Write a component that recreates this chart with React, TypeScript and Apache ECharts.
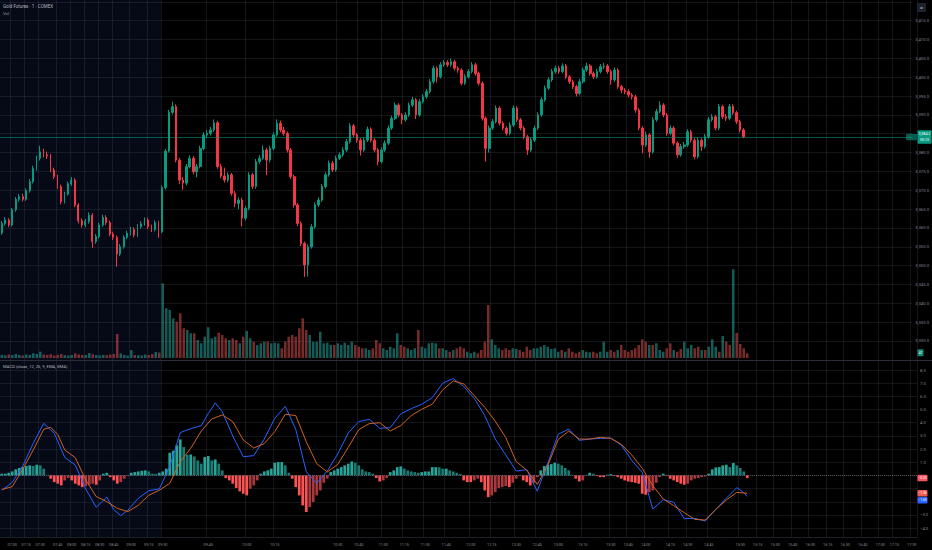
import React, { useEffect, useRef } from "react";
import * as echarts from "echarts";

const W = 932;
const H = 550;
const SLOT_COUNT = 262;

// [open, close, low, high]
const premarketCandles: number[][] = [
  [3358.7, 3361.2, 3358.2, 3361.8], [3361.2, 3362.1, 3360.6, 3362.9], [3362.1, 3360.8, 3360.2, 3362.6],
  [3360.8, 3364.8, 3360.4, 3365.3], [3364.8, 3367.6, 3364.3, 3368.2], [3367.6, 3368.3, 3367.0, 3369.0],
  [3368.3, 3367.6, 3367.0, 3369.1], [3367.6, 3369.9, 3367.2, 3370.5], [3369.9, 3372.3, 3369.4, 3373.0],
  [3372.3, 3375.8, 3371.8, 3376.5], [3375.8, 3378.5, 3375.2, 3379.2], [3378.5, 3380.2, 3377.9, 3381.8],
  [3380.2, 3379.4, 3378.7, 3381.0], [3379.4, 3379.1, 3378.3, 3380.3], [3379.1, 3375.4, 3374.8, 3379.6],
  [3375.4, 3373.6, 3373.0, 3376.0], [3373.6, 3371.0, 3370.4, 3374.1], [3371.0, 3367.0, 3366.3, 3371.5],
  [3367.0, 3369.0, 3366.5, 3369.6], [3369.0, 3371.7, 3368.6, 3372.3], [3371.7, 3372.7, 3371.2, 3373.5],
  [3372.7, 3366.1, 3365.5, 3373.2], [3366.1, 3361.9, 3361.2, 3366.6], [3361.9, 3360.8, 3360.1, 3362.5],
  [3360.8, 3361.7, 3360.2, 3362.4], [3361.7, 3363.4, 3361.1, 3364.1], [3363.4, 3356.4, 3354.7, 3363.9],
  [3356.4, 3357.7, 3355.8, 3358.4], [3357.7, 3360.8, 3357.2, 3361.4], [3360.8, 3362.8, 3360.3, 3363.5],
  [3362.8, 3361.4, 3360.8, 3363.4], [3361.4, 3358.4, 3357.8, 3361.9], [3358.4, 3357.5, 3356.8, 3359.0],
  [3357.5, 3353.1, 3349.7, 3358.0], [3353.1, 3355.0, 3352.5, 3355.7], [3355.0, 3357.5, 3354.5, 3358.1],
  [3357.5, 3358.6, 3357.0, 3359.3], [3358.6, 3359.6, 3358.0, 3360.3], [3359.6, 3358.1, 3357.5, 3360.2],
  [3358.1, 3360.3, 3357.6, 3361.0], [3360.3, 3361.1, 3359.8, 3361.8], [3361.1, 3362.1, 3360.6, 3362.8],
  [3362.1, 3360.3, 3359.7, 3362.7], [3360.3, 3359.6, 3358.9, 3360.9], [3359.6, 3361.4, 3359.1, 3362.0],
  [3361.4, 3359.0, 3357.4, 3361.9],
];

const sessionCandles: number[][] = [
  [3359.0, 3370.7, 3358.6, 3371.3], [3370.7, 3380.4, 3370.2, 3381.0], [3380.4, 3390.7, 3380.0, 3391.3],
  [3390.7, 3392.2, 3390.1, 3393.5], [3392.2, 3378.0, 3377.4, 3392.8], [3378.0, 3372.7, 3371.6, 3378.6],
  [3372.7, 3371.9, 3370.1, 3373.5], [3371.9, 3376.3, 3371.3, 3377.0], [3376.3, 3378.5, 3375.8, 3379.3],
  [3378.5, 3374.9, 3374.2, 3379.1], [3374.9, 3376.3, 3373.4, 3377.0], [3376.3, 3381.1, 3375.8, 3381.8],
  [3381.1, 3384.7, 3380.6, 3385.4], [3384.7, 3385.1, 3384.0, 3386.0], [3385.1, 3386.0, 3384.5, 3386.8],
  [3386.0, 3387.9, 3385.5, 3388.8], [3387.9, 3376.3, 3375.7, 3388.4], [3376.3, 3373.8, 3373.2, 3377.0],
  [3373.8, 3372.7, 3372.0, 3376.0], [3372.7, 3374.1, 3372.1, 3374.8], [3374.1, 3369.2, 3368.6, 3374.6],
  [3369.2, 3366.5, 3365.5, 3369.8], [3366.5, 3367.4, 3365.0, 3368.1], [3367.4, 3362.6, 3360.4, 3368.0],
  [3362.6, 3365.2, 3362.0, 3365.9], [3365.2, 3374.1, 3364.7, 3374.8], [3374.1, 3371.0, 3370.3, 3374.6],
  [3371.0, 3377.6, 3370.4, 3378.3], [3377.6, 3378.5, 3377.0, 3379.3], [3378.5, 3380.7, 3378.0, 3381.9],
  [3380.7, 3378.0, 3374.0, 3381.3], [3378.0, 3381.1, 3377.4, 3381.8], [3381.1, 3384.7, 3380.6, 3385.4],
  [3384.7, 3387.8, 3384.2, 3388.8], [3387.8, 3386.0, 3385.4, 3388.5], [3386.0, 3385.1, 3384.5, 3386.8],
  [3385.1, 3380.7, 3380.0, 3385.6], [3380.7, 3373.6, 3373.0, 3381.2], [3373.6, 3366.1, 3365.4, 3374.1],
  [3366.1, 3361.2, 3360.5, 3366.6], [3361.2, 3355.9, 3355.2, 3361.7], [3355.9, 3350.2, 3347.0, 3356.4],
  [3350.2, 3355.0, 3347.1, 3355.6], [3355.0, 3360.3, 3354.5, 3361.0], [3360.3, 3366.1, 3359.8, 3366.8],
  [3366.1, 3367.4, 3365.5, 3368.1], [3367.4, 3371.0, 3366.9, 3371.7], [3371.0, 3374.1, 3370.5, 3374.8],
  [3374.1, 3377.2, 3373.6, 3377.9], [3377.2, 3375.4, 3374.8, 3377.8], [3375.4, 3378.5, 3374.9, 3379.2],
  [3378.5, 3379.4, 3378.0, 3380.1], [3379.4, 3380.7, 3378.9, 3381.4], [3380.7, 3382.9, 3380.2, 3383.6],
  [3382.9, 3387.1, 3382.4, 3387.8], [3387.1, 3384.7, 3384.1, 3387.6], [3384.7, 3383.3, 3382.6, 3385.2],
  [3383.3, 3380.7, 3379.2, 3383.8], [3380.7, 3383.3, 3380.2, 3384.0], [3383.3, 3386.2, 3382.8, 3386.9],
  [3386.2, 3383.3, 3382.7, 3386.7], [3383.3, 3380.7, 3380.1, 3383.8], [3380.7, 3377.6, 3376.6, 3381.2],
  [3377.6, 3380.7, 3377.1, 3381.4], [3380.7, 3382.5, 3380.2, 3383.2], [3382.5, 3386.5, 3382.0, 3387.2],
  [3386.5, 3389.1, 3386.0, 3389.8], [3389.1, 3392.6, 3388.6, 3393.3], [3392.6, 3390.0, 3389.4, 3393.1],
  [3390.0, 3388.7, 3387.6, 3390.5], [3388.7, 3390.0, 3388.2, 3390.7], [3390.0, 3392.6, 3389.5, 3393.3],
  [3392.6, 3394.0, 3392.1, 3394.8], [3394.0, 3390.0, 3388.9, 3394.5], [3390.0, 3393.5, 3389.5, 3394.2],
  [3393.5, 3394.8, 3393.0, 3395.5], [3394.8, 3396.2, 3394.3, 3396.9], [3396.2, 3398.8, 3395.7, 3399.5],
  [3398.8, 3402.4, 3398.3, 3403.1], [3402.4, 3400.1, 3398.6, 3402.9], [3400.1, 3403.3, 3399.6, 3404.0],
  [3403.3, 3403.9, 3402.8, 3404.6], [3403.9, 3403.3, 3402.7, 3404.5], [3403.3, 3404.1, 3402.8, 3404.9],
  [3404.1, 3402.4, 3401.8, 3404.6], [3402.4, 3401.9, 3401.2, 3402.9], [3401.9, 3398.4, 3397.8, 3402.4],
  [3398.4, 3400.1, 3397.9, 3400.8], [3400.1, 3401.5, 3399.6, 3402.2], [3401.5, 3403.3, 3401.0, 3404.0],
  [3403.3, 3401.0, 3400.4, 3403.8], [3401.0, 3398.4, 3397.8, 3401.5], [3398.4, 3389.1, 3388.5, 3398.9],
  [3389.1, 3381.1, 3377.6, 3389.6], [3381.1, 3386.5, 3380.0, 3387.2], [3386.5, 3388.2, 3386.0, 3388.9],
  [3388.2, 3391.8, 3387.7, 3392.5], [3391.8, 3387.8, 3387.2, 3392.3], [3387.8, 3386.5, 3385.9, 3388.3],
  [3386.5, 3385.1, 3384.5, 3387.0], [3385.1, 3387.3, 3384.6, 3388.0], [3387.3, 3391.8, 3386.8, 3392.5],
  [3391.8, 3388.7, 3388.1, 3392.3], [3388.7, 3386.5, 3385.9, 3389.2], [3386.5, 3384.2, 3383.6, 3387.0],
  [3384.2, 3380.7, 3379.4, 3384.7], [3380.7, 3383.3, 3380.2, 3384.0], [3383.3, 3386.5, 3382.8, 3387.2],
  [3386.5, 3390.0, 3386.0, 3390.7], [3390.0, 3394.0, 3389.5, 3394.7], [3394.0, 3397.1, 3393.5, 3397.8],
  [3397.1, 3399.3, 3396.6, 3400.0], [3399.3, 3401.5, 3398.8, 3402.2], [3401.5, 3402.4, 3401.0, 3403.1],
  [3402.4, 3401.5, 3400.9, 3403.0], [3401.5, 3403.0, 3401.0, 3403.7], [3403.0, 3400.1, 3399.5, 3403.5],
  [3400.1, 3398.8, 3398.2, 3400.6], [3398.8, 3397.5, 3396.9, 3399.3], [3397.5, 3395.7, 3394.9, 3398.0],
  [3395.7, 3398.8, 3395.2, 3399.5], [3398.8, 3401.9, 3398.3, 3402.6], [3401.9, 3403.0, 3401.4, 3403.8],
  [3403.0, 3401.0, 3400.4, 3403.5], [3401.0, 3400.1, 3399.5, 3401.5], [3400.1, 3401.5, 3399.6, 3402.2],
  [3401.5, 3402.8, 3401.0, 3403.5], [3402.8, 3403.0, 3402.2, 3403.8], [3403.0, 3401.5, 3400.9, 3403.5],
  [3401.5, 3399.3, 3398.0, 3402.0], [3399.3, 3401.9, 3398.8, 3402.6], [3401.9, 3397.5, 3396.9, 3402.4],
  [3397.5, 3396.6, 3395.8, 3398.0], [3396.6, 3396.2, 3395.5, 3397.1], [3396.2, 3395.3, 3394.6, 3396.8],
  [3395.3, 3394.8, 3394.1, 3395.8], [3394.8, 3391.3, 3390.6, 3395.3], [3391.3, 3386.5, 3385.9, 3391.8],
  [3386.5, 3382.0, 3379.8, 3387.0], [3382.0, 3384.7, 3381.5, 3385.6], [3384.7, 3380.2, 3378.6, 3385.2],
  [3380.2, 3388.7, 3379.7, 3389.4], [3388.7, 3390.9, 3388.2, 3391.6], [3390.9, 3392.6, 3390.4, 3393.6],
  [3392.6, 3390.0, 3389.4, 3393.1], [3390.0, 3385.1, 3384.5, 3390.5], [3385.1, 3386.5, 3384.6, 3387.2],
  [3386.5, 3382.5, 3381.9, 3387.0], [3382.5, 3379.4, 3378.6, 3383.0], [3379.4, 3381.6, 3378.9, 3382.3],
  [3381.6, 3382.0, 3381.0, 3382.8], [3382.0, 3385.5, 3381.5, 3386.2], [3385.5, 3383.3, 3382.7, 3386.0],
  [3383.3, 3378.9, 3378.2, 3383.8], [3378.9, 3383.3, 3378.4, 3384.0], [3383.3, 3381.6, 3380.4, 3383.8],
  [3381.6, 3384.2, 3381.1, 3384.9], [3384.2, 3388.7, 3383.7, 3389.4], [3388.7, 3389.5, 3388.2, 3390.2],
  [3389.5, 3386.5, 3385.9, 3390.0], [3386.5, 3392.2, 3386.0, 3392.9], [3392.2, 3389.5, 3388.9, 3392.7],
  [3389.5, 3389.1, 3388.4, 3390.2], [3389.1, 3392.2, 3388.6, 3392.9], [3392.2, 3390.6, 3390.0, 3392.8],
  [3390.6, 3388.2, 3387.6, 3391.1], [3388.2, 3386.0, 3385.4, 3388.7], [3386.0, 3384.2, 3383.8, 3386.5],
];

const premarketVolume = [
  30, 25, 35, 28, 40, 30, 25, 35, 30, 47, 40, 63, 35, 30, 38, 25, 30, 40, 28, 25, 30, 47, 35,
  30, 28, 50, 38, 30, 25, 30, 28, 35, 40, 240, 45, 30, 25, 80, 30, 28, 25, 35, 30, 40, 60, 55,
];

const sessionVolume = [
  747, 497, 480, 397, 363, 447, 297, 280, 247, 247,
  180, 147, 213, 307, 197, 213,
  253, 230, 197, 180, 197, 180, 147, 213, 270, 197,
  163, 130, 147, 163, 163, 147, 153, 147, 97, 163,
  213, 230, 213, 297, 397, 280, 230, 163, 163, 263,
  147, 153, 130, 130, 147, 130, 153, 130, 163, 130,
  113, 97, 97, 80, 97, 180, 147, 97, 80, 113,
  97, 247, 130, 113, 97, 80, 97, 280, 113, 97,
  147, 153, 147, 97, 97, 80, 63, 80, 97,
  113, 97, 63, 47, 63, 47, 80, 163, 530, 187,
  130, 97, 80, 97, 80, 97, 90, 80, 63, 113,
  80, 97, 97, 113, 130, 113, 90, 97, 63, 80,
  63, 97, 63, 47, 63, 80, 63, 57, 63, 47,
  63, 163, 63, 80, 63, 80, 130, 80, 63, 80,
  97, 130, 187, 163, 130, 130, 147, 80, 63, 97,
  147, 80, 63, 90, 163, 97, 130, 97, 113, 80,
  80, 113, 187, 113, 63, 220, 163, 130, 887, 250,
  140, 97, 47,
];

const premarketHist = [
  0.13, 0.13, 0.2, 0.3, 0.46, 0.56, 0.63, 0.71, 0.76, 0.71,
  0.81, 0.76, 0.51, 0.02, -0.25, -0.51, -0.63, -0.76, -0.38, -0.2,
  -0.38, -0.63, -0.76, -0.89, -0.81, -0.71, -0.63, -0.71, -0.38, 0.13,
  0.2, -0.13, -0.38, -0.63, -0.51, -0.25, -0.05, 0.2, 0.25, 0.3,
  0.35, 0.38, 0.3, 0.13, 0.1, 0.2,
];

const sessionHist = [
  0.3, 0.51, 1.72, 1.87, 2.28, 2.73, 2.15, 1.57, 1.59, 1.44,
  1.14, 0.89, 1.39, 1.47, 1.14, 1.21, 0.89, 0.38, -0.2, -0.38,
  -0.63, -0.96, -1.21, -1.39, -1.52, -1.01, -0.76, -0.38, 0.13, 0.3,
  0.38, 0.51, 0.96, 1.01, 1.01, 0.76, 0.2, -0.25, -0.89, -1.52,
  -2.28, -2.78, -2.4, -2.02, -1.52, -1.14, -0.56, -0.25, 0.25, 0.38,
  0.51, 0.63, 0.76, 0.89, 1.06, 0.96, 0.76, 0.46, 0.3, 0.25,
  0.13, -0.2, -0.46, -0.38, -0.2, 0.25, 0.38, 0.63, 0.68, 0.51,
  0.38, 0.3, 0.25, 0.2, 0.25, 0.3, 0.3, 0.63, 0.63, 0.61,
  0.51, 0.51, 0.38, 0.3, 0.2, 0.1, -0.38, -0.51, -0.51, -0.38,
  -0.25, -0.51, -1.14, -1.65, -1.52, -1.27, -0.96, -0.89, -0.81, -0.89,
  -0.56, -0.25, -0.05, -0.38, -0.51, -0.76, -0.56, -0.13, 0.38, 0.71,
  0.81, 0.86, 0.96, 0.89, 0.76, 0.56, 0.38, 0.05, -0.25, -0.46,
  -0.38, 0.02, 0.2, 0.13, -0.05, -0.13, -0.13, 0.05, 0.1, -0.05,
  -0.13, -0.25, -0.38, -0.46, -0.51, -0.56, -0.63, -1.39, -1.47, -1.27,
  -1.14, -0.56, -0.13, 0.13, -0.05, -0.25, -0.38, -0.51, -0.63, -0.71,
  -0.63, -0.38, -0.25, -0.2, -0.13, -0.08, 0.13, 0.46, 0.61, 0.63,
  0.76, 0.81, 0.63, 0.94, 0.76, 0.56, 0.3, -0.2,
];

// [bar index, value]
const macdPoints: number[][] = [
  [0, -1.13], [3, -0.53], [6, 0.71], [9, 2.43], [12, 3.95], [15, 3.19], [18, 1.37], [21, 0.79],
  [24, -1.03], [27, -2.42], [30, -1.64], [32, -2.6], [34, -3.05], [36, -2.65], [39, -1.74], [42, -1.16],
  [45, -1.03], [48, 0.66], [51, 3.25], [54, 3.55], [57, 3.78], [59, 4.7], [61, 5.5], [63, 4.84],
  [66, 2.99], [69, 1.42], [72, 1.5], [75, 2.76], [78, 4.33], [81, 5.24], [84, 3.5], [87, 0.28],
  [90, -0.6], [93, 0.33], [96, 1.63], [99, 3.22], [102, 4.08], [105, 4.26], [108, 3.57], [111, 3.63],
  [114, 4.66], [117, 5.07], [120, 5.4], [123, 5.9], [126, 7.0], [129, 7.35], [132, 6.74], [135, 5.85],
  [138, 4.54], [141, 2.76], [144, 1.55], [147, 0.33], [150, 0.43], [153, -1.2], [156, 0.92], [159, 3.12],
  [162, 3.52], [165, 2.66], [168, 2.76], [171, 2.81], [174, 2.84], [177, 2.31], [180, 1.14], [183, 0.23],
  [186, -2.55], [189, -1.84], [192, -2.04], [195, -3.28], [198, -3.26], [201, -3.46], [204, -2.58],
  [207, -1.74], [210, -0.93], [212, -1.3], [213, -1.6],
];

const signalPoints: number[][] = [
  [0, -1.08], [3, -0.85], [6, 0.46], [9, 1.93], [12, 3.5], [14, 3.65], [16, 3.1], [18, 1.93], [21, 1.35],
  [24, -0.35], [27, -1.61], [30, -1.99], [33, -2.5], [36, -2.75], [39, -2.27], [42, -1.51], [45, -1.13],
  [48, -0.6], [51, 1.04], [54, 2.06], [57, 3.37], [60, 4.28], [63, 4.59], [66, 4.08], [69, 2.69],
  [72, 2.08], [75, 2.41], [78, 3.32], [81, 4.64], [84, 4.54], [87, 2.56], [90, 0.89], [93, 0.26],
  [96, 0.84], [99, 2.13], [102, 3.47], [105, 3.93], [108, 4.0], [111, 3.37], [114, 3.78], [117, 4.54],
  [120, 5.02], [123, 5.4], [126, 6.5], [129, 7.17], [132, 6.94], [135, 6.05], [138, 5.17], [141, 4.11],
  [144, 2.87], [147, 1.04], [150, 0.4], [153, -0.68], [156, 0.75], [159, 2.74], [162, 3.37], [165, 2.76],
  [168, 2.76], [171, 2.89], [174, 2.81], [177, 2.36], [180, 1.55], [183, 0.54], [186, -0.78], [189, -1.79],
  [192, -2.3], [195, -2.83], [198, -3.34], [201, -3.39], [204, -2.58], [207, -1.87], [210, -1.29], [213, -1.36],
];

const tickIndex = [
  3, 7, 11, 16, 20, 24, 28, 32, 37, 42, 46, 59, 70, 78, 96, 102, 109, 115, 121, 127, 134, 140,
  147, 153, 159, 166, 174, 179, 184, 191, 196, 202, 211, 216, 221, 226, 231, 236, 241, 246, 251, 255, 260,
];
const tickLabels = [
  "07:00", "07:15", "07:30", "07:45", "08:00", "08:15", "08:30", "08:45", "09:00", "09:15", "09:30",
  "09:45", "10:00", "10:15", "10:30", "10:45", "11:00", "11:15", "11:30", "11:45", "12:00", "12:15",
  "12:30", "12:45", "13:00", "13:15", "13:30", "13:45", "14:00", "14:15", "14:30", "14:45", "15:00",
  "15:15", "15:30", "15:45", "16:00", "16:15", "16:30", "16:45", "17:00", "17:15", "17:30",
];

const TITLE = "Gold Futures · 1 · COMEX";
const VOL_TITLE = "Vol";
const MACD_TITLE = "MACD (close, 12, 26, 9, EMA, EMA)";
const COUNTDOWN = "00:23";

const UP = "#089981";
const DOWN = "#f23645";
const GRID_LINE = "rgba(90,96,112,0.22)";
const AXIS_TEXT = "#868993";
const FONT = "Roboto";

function fmtPrice(v: number) {
  return v.toLocaleString("en-US", { minimumFractionDigits: 1, maximumFractionDigits: 1 });
}
function fmtSigned(v: number, d: number) {
  return (v < 0 ? "\u2212" : "") + Math.abs(v).toFixed(d);
}

export default function App() {
  const ref = useRef<HTMLDivElement>(null);

  useEffect(() => {
    document.body.style.margin = "0";
    document.body.style.background = "#000";
    const chart = echarts.init(ref.current!, null, { renderer: "svg" });

    const categories = Array.from({ length: SLOT_COUNT }, (_, i) => String(i));
    const tickSet = new Set(tickIndex);
    const labelMap = new Map<number, string>();
    tickIndex.forEach((t, k) => labelMap.set(t, tickLabels[k]));

    const allCandles = premarketCandles.concat(sessionCandles);
    const sessionData: any[] = premarketCandles.map(() => ["-", "-", "-", "-"]).concat(sessionCandles as any[]);
    const volumes = premarketVolume.concat(sessionVolume);
    const hist = premarketHist.concat(sessionHist);
    const last = sessionCandles[sessionCandles.length - 1];
    const lastClose = last[1];

    const volData = volumes.map((v, i) => ({
      value: v,
      itemStyle: { color: allCandles[i][1] >= allCandles[i][0] ? "rgba(38,166,154,0.55)" : "rgba(239,83,80,0.5)" },
    }));
    const histData = hist.map((v, i) => {
      const prev = i > 0 ? hist[i - 1] : v;
      let color;
      if (v >= 0) color = v >= prev ? "#26a69a" : "#1c7a70";
      else color = v <= prev ? "#ff5252" : "#a8393e";
      return { value: v, itemStyle: { color } };
    });

    const hiddenX = (gi: number) => ({
      type: "category" as const,
      gridIndex: gi,
      data: categories,
      show: false,
    });

    // price labels hidden where the last-price tag covers them
    const priceHidden = (v: number) => Math.abs(v - lastClose) < 2.3;

    const option: any = {
      animation: false,
      backgroundColor: "#000000",
      textStyle: { fontFamily: FONT },
      grid: [
        { left: 0, right: 15, top: 0, bottom: 13 },
        { left: 0, right: 15, top: 1.859, height: 357.98 },
        { left: 0, right: 15, top: 258, height: 100 },
        { left: 0, right: 15, top: 370, height: 158.1 },
      ],
      xAxis: [
        {
          type: "category",
          gridIndex: 0,
          data: categories,
          axisLine: { show: true, lineStyle: { color: "#1c1f26" } },
          axisTick: { show: false },
          axisLabel: {
            interval: (i: number) => tickSet.has(i),
            formatter: (_v: string, i: number) => labelMap.get(i) || "",
            fontSize: 3.8,
            color: AXIS_TEXT,
            margin: 5,
            fontFamily: FONT,
          },
          splitLine: {
            show: true,
            interval: (i: number) => tickSet.has(i),
            lineStyle: { color: GRID_LINE, width: 1 },
          },
        },
        hiddenX(1),
        hiddenX(2),
        hiddenX(3),
      ],
      yAxis: [
        { type: "value", gridIndex: 0, show: false },
        {
          type: "value",
          gridIndex: 1,
          position: "right",
          min: 3325,
          max: 3420,
          interval: 5,
          axisLine: { show: false },
          axisTick: { show: false },
          axisLabel: {
            fontSize: 4.2,
            color: AXIS_TEXT,
            margin: 3,
            showMinLabel: false,
            showMaxLabel: false,
            formatter: (v: number) => (priceHidden(v) ? "" : fmtPrice(v)),
          },
          splitLine: { show: true, lineStyle: { color: GRID_LINE, width: 1 } },
        },
        { type: "value", gridIndex: 2, show: false, min: 0, max: 1000 },
        {
          type: "value",
          gridIndex: 3,
          position: "right",
          min: -4,
          max: 8,
          interval: 1,
          axisLine: { show: false },
          axisTick: { show: false },
          axisLabel: {
            fontSize: 4.2,
            color: AXIS_TEXT,
            margin: 3,
            formatter: (v: number) => fmtSigned(v, 1),
          },
          splitLine: { show: true, lineStyle: { color: GRID_LINE, width: 1 } },
        },
      ],
      series: [
        {
          name: "volume",
          type: "bar",
          xAxisIndex: 2,
          yAxisIndex: 2,
          data: volData,
          barWidth: "72%",
          z: 1,
        },
        {
          name: "premarket",
          type: "candlestick",
          xAxisIndex: 1,
          yAxisIndex: 1,
          data: premarketCandles,
          barWidth: "38%",
          itemStyle: { color: UP, color0: DOWN, borderColor: UP, borderColor0: DOWN, borderWidth: 1 },
          z: 3,
        },
        {
          name: "session",
          type: "candlestick",
          xAxisIndex: 1,
          yAxisIndex: 1,
          data: sessionData,
          barWidth: "60%",
          itemStyle: { color: UP, color0: DOWN, borderColor: UP, borderColor0: DOWN, borderWidth: 1 },
          z: 3,
          markLine: {
            symbol: "none",
            silent: true,
            label: { show: false },
            lineStyle: { color: "rgba(8,153,129,0.55)", type: "solid", width: 1 },
            data: [{ yAxis: lastClose }],
          },
        },
        {
          name: "hist",
          type: "bar",
          xAxisIndex: 3,
          yAxisIndex: 3,
          data: histData,
          barWidth: "78%",
          z: 2,
          markLine: {
            symbol: "none",
            silent: true,
            label: { show: false },
            lineStyle: { color: "rgba(120,123,134,0.55)", type: "dotted", width: 1 },
            data: [{ yAxis: 0 }],
          },
        },
        {
          name: "macd",
          type: "line",
          xAxisIndex: 3,
          yAxisIndex: 3,
          data: macdPoints,
          showSymbol: false,
          symbol: "none",
          lineStyle: { color: "#2962ff", width: 1 },
          z: 4,
        },
        {
          name: "signal",
          type: "line",
          xAxisIndex: 3,
          yAxisIndex: 3,
          data: signalPoints,
          showSymbol: false,
          symbol: "none",
          lineStyle: { color: "#d2621f", width: 1 },
          z: 4,
        },
      ],
    };

    chart.setOption(option);

    const priceY = chart.convertToPixel({ yAxisIndex: 1 }, lastClose) as number;
    const lastVol = volumes[volumes.length - 1];
    const volY = chart.convertToPixel({ yAxisIndex: 2 }, lastVol) as number;
    const lastHist = hist[hist.length - 1];
    const lastMacd = macdPoints[macdPoints.length - 1][1];
    const lastSignal = signalPoints[signalPoints.length - 1][1];
    const tags = [
      { v: lastHist, color: lastHist >= 0 ? "#26a69a" : "#f7525f" },
      { v: lastSignal, color: "#f25a4f" },
      { v: lastMacd, color: "#2962ff" },
    ].map((t) => ({ ...t, y: chart.convertToPixel({ yAxisIndex: 3 }, t.v) as number }));
    tags.sort((a, b) => a.y - b.y);
    for (let k = 1; k < tags.length; k++) {
      if (tags[k].y < tags[k - 1].y + 7) tags[k].y = tags[k - 1].y + 7;
    }

    // MACD scale labels that sit under a value tag are covered in the reference
    const macdHidden = (v: number) => {
      const y = chart.convertToPixel({ yAxisIndex: 3 }, v) as number;
      return tags.some((t) => Math.abs(t.y - y) < 6.5);
    };

    const tagRect = (x: number, y: number, w: number, h: number, fill: string) => ({
      type: "rect",
      z: 100,
      shape: { x, y, width: w, height: h, r: 1 },
      style: { fill },
    });
    const tagText = (x: number, y: number, text: string, size = 4.2, fill = "#ffffff", align = "center") => ({
      type: "text",
      z: 101,
      style: {
        x,
        y,
        text,
        fill,
        fontSize: size,
        fontFamily: FONT,
        textAlign: align,
        textVerticalAlign: "middle",
      },
    });

    const graphic: any[] = [
      {
        type: "rect",
        z: -1,
        silent: true,
        shape: { x: 0, y: 0, width: 161, height: 537 },
        style: { fill: "#060a17" },
      },
      {
        type: "line",
        z: 50,
        silent: true,
        shape: { x1: 0, y1: 360.5, x2: W, y2: 360.5 },
        style: { stroke: "#2a2e39", lineWidth: 1 },
      },
      tagText(3, 6, TITLE, 4.5, "#b2b5be", "left"),
      tagText(3, 13.5, VOL_TITLE, 4.2, "#9598a1", "left"),
      tagText(3, 366, MACD_TITLE, 4.2, "#b2b5be", "left"),
      tagRect(917, 3, 9, 9, "#1e222d"),
      tagText(921.5, 7.5, "\u2261", 6, "#b2b5be"),
      tagRect(906, priceY - 3, 11, 6.5, "rgba(8,153,129,0.6)"),
      tagRect(917.5, priceY - 6.5, 14, 13.5, UP),
      tagText(924.5, priceY - 3, fmtPrice(lastClose), 3.6),
      tagText(924.5, priceY + 3.2, COUNTDOWN, 3.6),
      tagRect(917.5, volY - 4, 6, 7, "#0f8a76"),
      tagText(920.5, volY - 0.5, String(lastVol), 3.2),
    ];
    tags.forEach((t) => {
      graphic.push(tagRect(917.5, t.y - 3.3, 10, 6.6, t.color));
      graphic.push(tagText(922.5, t.y, fmtSigned(t.v, 2), 3.4));
    });

    chart.setOption({
      yAxis: [
        {},
        {},
        {},
        { axisLabel: { formatter: (v: number) => (macdHidden(v) ? "" : fmtSigned(v, 1)) } },
      ],
      graphic,
    });

    return () => {
      chart.dispose();
    };
  }, []);

  return <div ref={ref} style={{ width: W, height: H }} />;
}
